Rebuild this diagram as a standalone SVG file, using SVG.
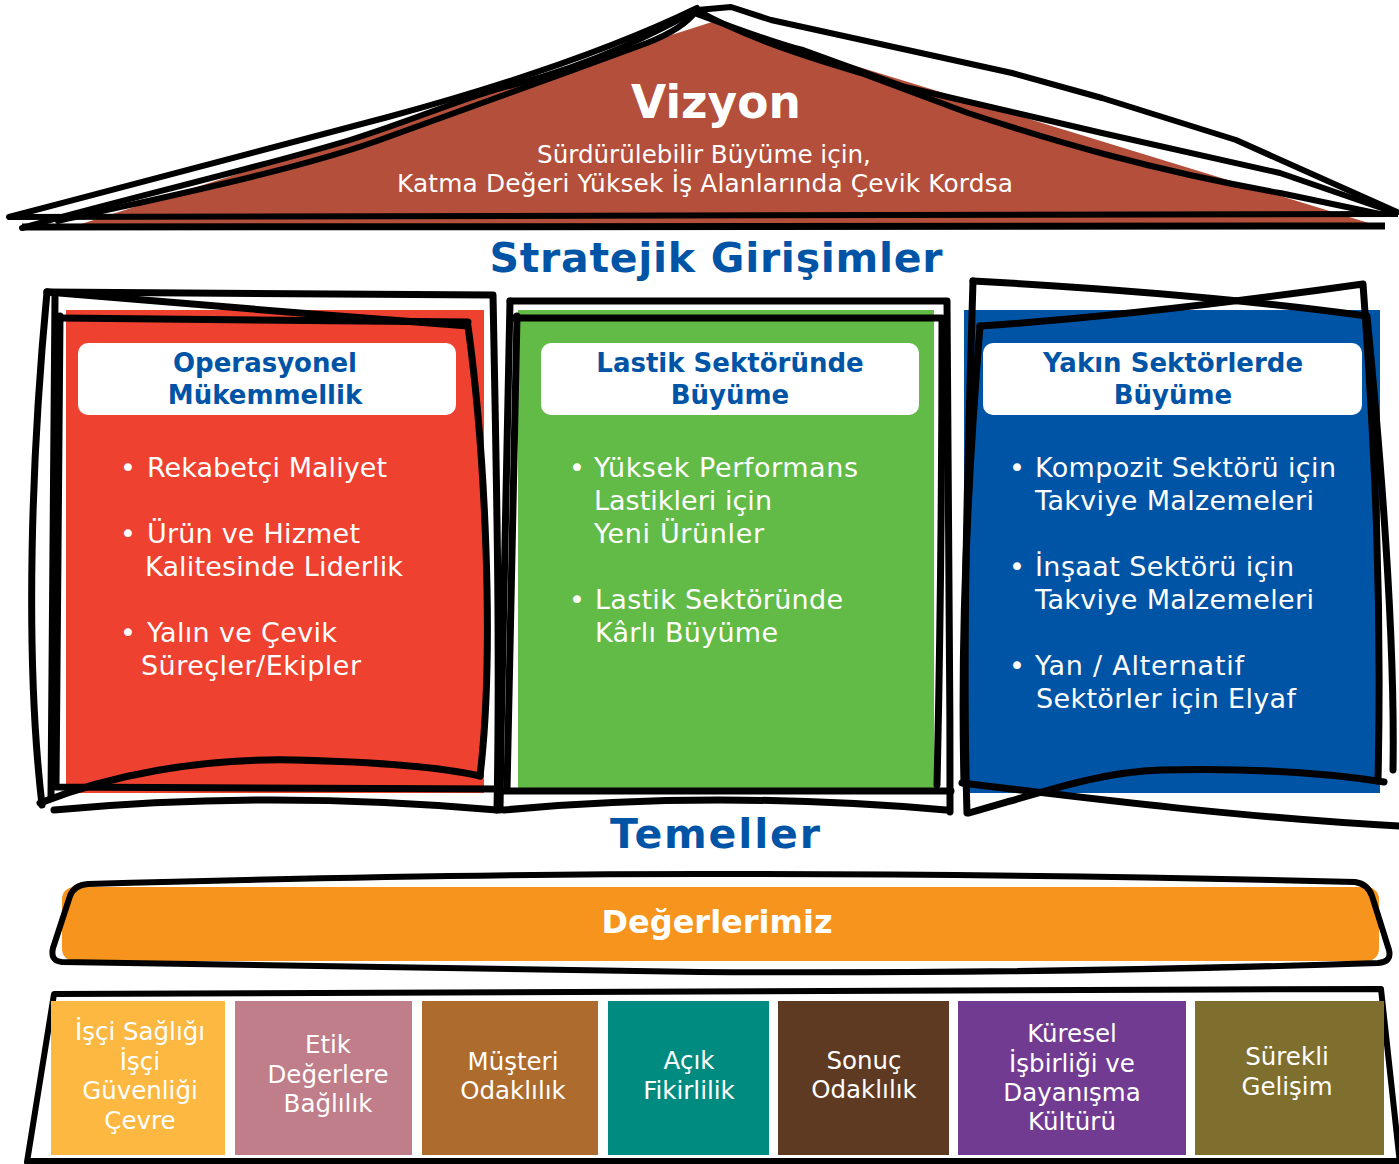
<svg xmlns="http://www.w3.org/2000/svg" width="1399" height="1164" viewBox="0 0 1399 1164">
<style>
.sk{fill:none;stroke:#000;stroke-width:7;stroke-linejoin:round;stroke-linecap:round}
.sk6{fill:none;stroke:#000;stroke-width:6;stroke-linejoin:round;stroke-linecap:round}
.hdr{fill:#fff}
.ttl{font-family:"DejaVu Sans",Verdana,sans-serif;font-weight:bold;font-size:26px;fill:#0054a6;text-anchor:middle}
.big{font-family:"DejaVu Sans",Verdana,sans-serif;font-weight:bold;font-size:41px;fill:#0054a6;text-anchor:middle}
.bl{font-family:"DejaVu Sans",Verdana,sans-serif;font-size:27px;fill:#fff}
.lab{font-family:"DejaVu Sans",Verdana,sans-serif;font-size:24.5px;fill:#fff;text-anchor:middle}
.wt{font-family:"DejaVu Sans",Verdana,sans-serif;fill:#fff;text-anchor:middle}
</style>
<rect width="1399" height="1164" fill="#fff"/>

<g id="vizyon">
  <path d="M75,226 L712,22 L1385,228 Z" fill="#b34f3b"/>
  <text class="wt" x="716" y="118" font-size="45.5" font-weight="bold">Vizyon</text>
  <text class="wt" x="704" y="163" font-size="24.6">Sürdürülebilir Büyüme için,</text>
  <text class="wt" x="705" y="192" font-size="24.8" textLength="616">Katma Değeri Yüksek İş Alanlarında Çevik Kordsa</text>
  <path class="sk6" d="M9,217 C150,180 300,140 388,117 C480,92 600,55 697,8"/>
  <path class="sk6" d="M58,221 C150,200 300,170 388,137 C470,108 560,75 647,43 C675,32 690,20 697,10"/>
  <path class="sk6" d="M22,228 C120,200 250,170 350,140 C420,118 470,95 513,85 C600,62 660,30 697,10"/>
  <path class="sk6" d="M697,10 L731,7 L771,20 L1012,73 L1102,98 L1236,140 L1397,212"/>
  <path class="sk6" d="M697,10 C740,35 800,55 861,73 L968,113 C1050,140 1150,170 1280,193 L1380,214"/>
  <path class="sk6" d="M697,14 C740,30 780,45 803,50 L905,87 L1102,133 L1280,173 L1396,213"/>
  <path d="M8,217 L1398,214" stroke="#000" stroke-width="6" fill="none"/>
  <path d="M22,227 L1385,226" stroke="#000" stroke-width="7" fill="none"/>
</g>

<text id="stratejik" class="big" x="716" y="272" textLength="453">Stratejik Girişimler</text>

<g id="operasyonel">
  <rect x="66" y="310" width="418" height="483" fill="#ef4130"/>
  <rect class="hdr" x="78" y="343" width="378" height="72" rx="10"/>
  <text class="ttl" x="265" y="372">Operasyonel</text>
  <text class="ttl" x="265" y="404">Mükemmellik</text>
  <text class="bl" x="120" y="477">•</text><text class="bl" x="147" y="477" textLength="240">Rekabetçi Maliyet</text>
  <text class="bl" x="120" y="543">•</text><text class="bl" x="147" y="543" textLength="213">Ürün ve Hizmet</text>
  <text class="bl" x="145" y="576" textLength="258">Kalitesinde Liderlik</text>
  <text class="bl" x="120" y="642">•</text><text class="bl" x="147" y="642" textLength="190">Yalın ve Çevik</text>
  <text class="bl" x="141" y="675" textLength="220">Süreçler/Ekipler</text>
  <path class="sk" d="M47,292 C32,450 24,650 42,805"/>
  <path class="sk" d="M47,292 L493,295 C497,500 500,650 497,810"/>
  <path class="sk" d="M55,296 L51,797"/>
  <path class="sk" d="M47,292 L300,313 L468,326 C485,450 495,650 480,776"/>
  <path class="sk" d="M60,318 L468,322"/>
  <path class="sk" d="M60,316 L56,787 L500,789"/>
  <path class="sk" d="M40,803 C110,775 200,758 295,760 C380,762 440,767 480,776"/>
  <path class="sk" d="M54,810 Q270,790 497,810"/>
</g>

<g id="lastik">
  <rect x="518" y="310" width="416" height="478" fill="#62bb47"/>
  <rect class="hdr" x="541" y="343" width="378" height="72" rx="10"/>
  <text class="ttl" x="730" y="372">Lastik Sektöründe</text>
  <text class="ttl" x="730" y="404">Büyüme</text>
  <text class="bl" x="569" y="477">•</text><text class="bl" x="594" y="477" textLength="264">Yüksek Performans</text>
  <text class="bl" x="594" y="510" textLength="178">Lastikleri için</text>
  <text class="bl" x="594" y="543" textLength="170">Yeni Ürünler</text>
  <text class="bl" x="569" y="609">•</text><text class="bl" x="595" y="609" textLength="248">Lastik Sektöründe</text>
  <text class="bl" x="595" y="642" textLength="183">Kârlı Büyüme</text>
  <path class="sk" d="M510,301 L947,301 C949,500 950,650 950,812"/>
  <path class="sk" d="M510,301 C506,500 502,650 500,810"/>
  <path class="sk" d="M517,316 C514,500 510,650 507,790"/>
  <path class="sk" d="M512,318 L942,318 C942,500 940,650 937,785"/>
  <path class="sk" d="M504,791 L951,791"/>
  <path class="sk" d="M504,810 Q714,790 946,810"/>
</g>

<g id="yakin">
  <rect x="964" y="310" width="416" height="483" fill="#0054a6"/>
  <rect class="hdr" x="983" y="343" width="379" height="72" rx="10"/>
  <text class="ttl" x="1173" y="372">Yakın Sektörlerde</text>
  <text class="ttl" x="1173" y="404">Büyüme</text>
  <text class="bl" x="1009" y="477">•</text><text class="bl" x="1035" y="477" textLength="301">Kompozit Sektörü için</text>
  <text class="bl" x="1035" y="510" textLength="279">Takviye Malzemeleri</text>
  <text class="bl" x="1009" y="576">•</text><text class="bl" x="1035" y="576" textLength="259">İnşaat Sektörü için</text>
  <text class="bl" x="1035" y="609" textLength="279">Takviye Malzemeleri</text>
  <text class="bl" x="1009" y="675">•</text><text class="bl" x="1035" y="675" textLength="209">Yan / Alternatif</text>
  <text class="bl" x="1036" y="708" textLength="260">Sektörler için Elyaf</text>
  <path class="sk" d="M973,281 C1100,288 1250,300 1367,316 C1385,500 1395,650 1393,770"/>
  <path class="sk" d="M980,326 C1100,318 1250,300 1363,284 C1375,450 1382,600 1378,781"/>
  <path class="sk" d="M973,281 C968,450 962,650 967,813"/>
  <path class="sk" d="M980,326 C970,450 960,620 964,783"/>
  <path class="sk" d="M969,813 C1050,790 1100,772 1161,770 C1250,768 1320,772 1384,782"/>
  <path class="sk" d="M962,783 C1100,800 1250,818 1399,826"/>
</g>

<text id="temeller" class="big" x="715" y="848" font-size="42" textLength="210">Temeller</text>

<g id="degerlerimiz">
  <rect x="62" y="887" width="1317" height="74" rx="12" fill="#f7941e"/>
  <path class="sk6" d="M88,884 C300,878 500,874 700,874 C1000,874 1200,878 1355,882 Q1368,884 1372,896 L1389,950 Q1392,962 1378,963 C1100,972 900,973 700,972 C450,970 250,965 62,962 Q50,961 53,948 L70,896 Q74,885 88,884 Z"/>
  <text class="wt" x="717" y="933" font-size="32" font-weight="bold">Değerlerimiz</text>
</g>

<g id="degerler-kutulari">
  <path class="sk6" d="M27,1162 L54,994 C400,993 900,990 1381,989 L1400,1164"/>
  <path d="M27,1161 L1399,1161" stroke="#000" stroke-width="6" fill="none"/>
</g>
<g id="v1"><rect x="51" y="1001" width="174" height="154" fill="#fdb841"/>
  <text class="lab" x="140" y="1040">İşçi Sağlığı</text><text class="lab" x="140" y="1070">İşçi</text><text class="lab" x="140" y="1099">Güvenliği</text><text class="lab" x="140" y="1129">Çevre</text></g>
<g id="v2"><rect x="235" y="1001" width="177" height="154" fill="#c07d8a"/>
  <text class="lab" x="328" y="1053">Etik</text><text class="lab" x="328" y="1083">Değerlere</text><text class="lab" x="328" y="1112">Bağlılık</text></g>
<g id="v3"><rect x="422" y="1001" width="176" height="154" fill="#ad6b2d"/>
  <text class="lab" x="513" y="1070">Müşteri</text><text class="lab" x="513" y="1099">Odaklılık</text></g>
<g id="v4"><rect x="608" y="1001" width="161" height="154" fill="#008b80"/>
  <text class="lab" x="689" y="1069">Açık</text><text class="lab" x="689" y="1099">Fikirlilik</text></g>
<g id="v5"><rect x="778" y="1001" width="171" height="154" fill="#5e3a23"/>
  <text class="lab" x="864" y="1069">Sonuç</text><text class="lab" x="864" y="1098">Odaklılık</text></g>
<g id="v6"><rect x="958" y="1001" width="228" height="154" fill="#723b92"/>
  <text class="lab" x="1072" y="1042">Küresel</text><text class="lab" x="1072" y="1072">İşbirliği ve</text><text class="lab" x="1072" y="1101">Dayanışma</text><text class="lab" x="1072" y="1130">Kültürü</text></g>
<g id="v7"><rect x="1195" y="1001" width="189" height="154" fill="#7f6f2e"/>
  <text class="lab" x="1287" y="1065">Sürekli</text><text class="lab" x="1287" y="1095">Gelişim</text></g>
</svg>
